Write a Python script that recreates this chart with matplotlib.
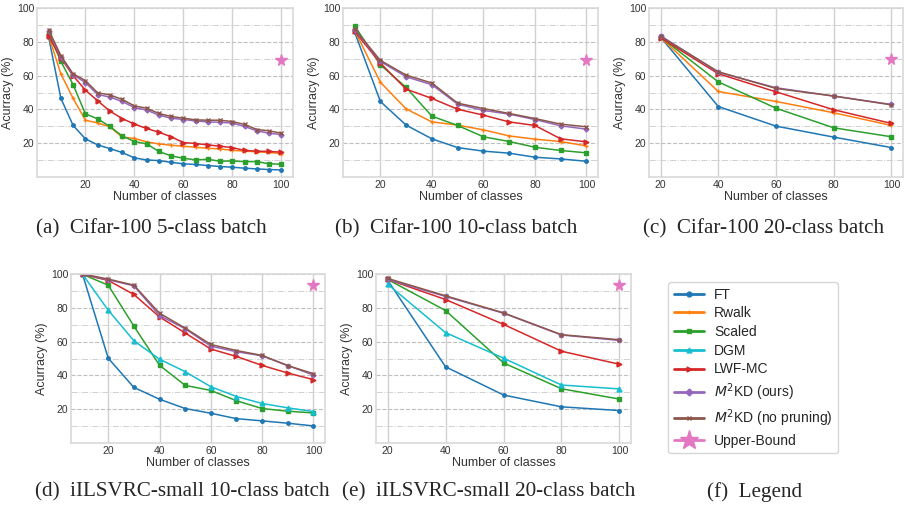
import matplotlib
matplotlib.use("Agg")
import matplotlib.pyplot as plt
from matplotlib.lines import Line2D
from matplotlib.ticker import MultipleLocator

plt.style.use("seaborn-v0_8-whitegrid")

# ---- data ----
x_a = [5, 10, 15, 20, 25, 30, 35, 40, 45, 50, 55, 60, 65, 70, 75, 80, 85, 90, 95, 100]
ft_a = [82.8, 46.5, 30.5, 22.6, 19.0, 16.8, 14.5, 11.3, 10.1, 9.7, 8.7, 7.8, 7.4, 6.8, 6.2, 5.8, 5.2, 4.8, 4.4, 4.2]
rwalk_a = [83.6, 61.0, 46.5, 33.6, 32.0, 29.7, 23.6, 22.8, 20.8, 19.6, 18.8, 18.2, 17.6, 17.0, 16.6, 15.8, 15.3, 14.9, 14.5, 13.9]
scaled_a = [85.2, 68.4, 54.6, 37.4, 34.4, 29.9, 24.3, 21.0, 19.6, 15.1, 12.5, 11.1, 10.1, 10.5, 9.3, 9.5, 9.1, 9.1, 7.8, 7.6]
lwf_a = [83.2, 70.4, 59.9, 51.4, 45.1, 39.0, 34.6, 31.3, 28.7, 26.5, 23.8, 20.4, 19.8, 19.0, 18.2, 17.4, 15.7, 15.3, 15.1, 14.7]
ours_a = [86.6, 71.0, 60.5, 55.9, 48.8, 47.3, 44.7, 41.1, 39.6, 36.6, 34.8, 34.0, 33.2, 32.6, 32.4, 31.9, 29.9, 27.3, 25.9, 25.1]
nopr_a = [87.0, 71.8, 61.0, 57.1, 49.8, 48.6, 45.9, 42.1, 40.7, 37.6, 35.8, 34.8, 33.8, 33.6, 33.6, 32.8, 31.1, 28.1, 27.3, 25.9]
ub_a = 69.4

x_b = [10, 20, 30, 40, 50, 60, 70, 80, 90, 100]
ft_b = [85.8, 44.7, 30.7, 22.6, 17.4, 15.3, 14.1, 11.7, 10.7, 9.3]
rwalk_b = [86.8, 56.1, 40.3, 32.6, 30.7, 27.9, 24.3, 22.4, 21.0, 18.4]
scaled_b = [89.5, 66.4, 53.0, 36.0, 30.5, 23.8, 21.0, 17.6, 15.7, 14.3]
lwf_b = [86.2, 67.4, 52.0, 46.5, 40.1, 36.6, 32.6, 30.5, 22.6, 20.8]
ours_b = [87.2, 68.4, 59.3, 54.6, 43.1, 39.4, 37.2, 34.0, 30.3, 28.3]
nopr_b = [87.6, 69.0, 60.3, 55.6, 43.7, 40.5, 37.6, 34.6, 31.3, 29.7]
ub_b = 69.4

x_c = [20, 40, 60, 80, 100]
ft_c = [82.8, 41.7, 30.1, 23.6, 17.4]
rwalk_c = [82.6, 50.6, 44.7, 38.0, 30.5]
scaled_c = [82.8, 56.3, 40.7, 29.1, 23.8]
lwf_c = [82.4, 61.1, 50.4, 39.8, 31.7]
ours_c = [83.6, 61.9, 52.8, 47.9, 42.9]
nopr_c = [83.2, 62.3, 52.4, 47.9, 42.7]
ub_c = 69.8

x_d = [10, 20, 30, 40, 50, 60, 70, 80, 90, 100]
ft_d = [99.8, 50.2, 32.9, 25.9, 20.4, 17.6, 14.4, 13.1, 11.7, 10.1]
scaled_d = [99.8, 93.4, 69.2, 46.0, 34.1, 31.1, 25.0, 20.4, 18.8, 17.8]
dgm_d = [99.8, 78.6, 60.5, 49.6, 42.2, 33.3, 27.5, 23.4, 20.8, 18.6]
lwf_d = [99.8, 96.2, 87.9, 74.6, 65.1, 55.6, 51.2, 45.9, 41.4, 37.5]
ours_d = [99.8, 96.6, 93.0, 75.4, 67.6, 57.3, 54.0, 51.6, 45.8, 40.2]
nopr_d = [100.0, 97.0, 93.4, 76.8, 68.0, 58.3, 54.7, 51.8, 45.8, 41.0]
ub_d = 93.2

x_e = [20, 40, 60, 80, 100]
ft_e = [96.4, 45.1, 28.4, 21.4, 19.2]
scaled_e = [96.8, 78.4, 47.4, 32.1, 26.0]
dgm_e = [94.0, 65.3, 50.2, 34.3, 32.0]
lwf_e = [96.8, 84.9, 70.2, 54.3, 46.6]
ours_e = [96.8, 86.7, 76.8, 63.9, 60.7]
nopr_e = [97.4, 87.1, 77.0, 64.1, 61.1]
ub_e = 93.2

names = ["FT", "Rwalk", "Scaled", "DGM", "LWF-MC",
         r"$M^2$KD (ours)", r"$M^2$KD (no pruning)", "Upper-Bound"]
colors = ["tab:blue", "tab:orange", "tab:green", "tab:cyan", "tab:red",
          "tab:purple", "tab:brown", "tab:pink"]
markers = ["o", "+", "s", "^", ">", "D", "x", "*"]

captions = ["(a)  Cifar-100 5-class batch", "(b)  Cifar-100 10-class batch",
            "(c)  Cifar-100 20-class batch", "(d)  iILSVRC-small 10-class batch",
            "(e)  iILSVRC-small 20-class batch", "(f)  Legend"]

W, H = 905, 509
fig = plt.figure(figsize=(W / 100, H / 100), dpi=100)


def box(l, t, r, b):
    return [l / W, 1 - b / H, (r - l) / W, (b - t) / H]


def panel(rect, x, series, ub):
    ax = fig.add_axes(rect)
    for idx, y in series:
        ms = 2.5 if markers[idx] in ("D", "s", "o") else 3.5
        ax.plot(x, y, color=colors[idx], marker=markers[idx], ms=ms, lw=1.1, mew=1)
    ax.plot([100], [ub], color=colors[7], marker="*", ms=8.5, ls="none")
    ax.set_ylim(0, 100)
    ax.set_yticks([20, 40, 60, 80, 100])
    ax.yaxis.set_minor_locator(MultipleLocator(10))
    ax.set_xticks([20, 40, 60, 80, 100])
    ax.grid(axis="x", color="0.82", lw=1.0, ls="-")
    ax.grid(axis="y", which="major", color="0.75", lw=0.8, ls="--")
    ax.grid(axis="y", which="minor", color="0.82", lw=0.7, ls="-.")
    ax.tick_params(labelsize=7.5, pad=2, which="both", length=0, labelcolor="0.2")
    for s in ax.spines.values():
        s.set_edgecolor("0.85")
        s.set_linewidth(1.2)
    ax.set_xlabel("Number of classes", fontsize=9, labelpad=1, color="0.2")
    ax.set_ylabel("Acurracy (%)", fontsize=9, labelpad=2, color="0.2")
    return ax


panel(box(37, 8, 293, 177), x_a,
      [(0, ft_a), (1, rwalk_a), (2, scaled_a), (4, lwf_a), (5, ours_a), (6, nopr_a)], ub_a)
panel(box(343, 8, 598, 177), x_b,
      [(0, ft_b), (1, rwalk_b), (2, scaled_b), (4, lwf_b), (5, ours_b), (6, nopr_b)], ub_b)
panel(box(649, 8, 903, 177), x_c,
      [(0, ft_c), (1, rwalk_c), (2, scaled_c), (4, lwf_c), (5, ours_c), (6, nopr_c)], ub_c)
panel(box(71, 274, 325, 443), x_d,
      [(0, ft_d), (2, scaled_d), (3, dgm_d), (4, lwf_d), (5, ours_d), (6, nopr_d)], ub_d)
panel(box(376, 274, 631, 443), x_e,
      [(0, ft_e), (2, scaled_e), (3, dgm_e), (4, lwf_e), (5, ours_e), (6, nopr_e)], ub_e)

# legend panel
handles = []
for i in range(8):
    if markers[i] == "*":
        handles.append(Line2D([], [], color=colors[i], marker="*", ms=14, lw=2))
    else:
        handles.append(Line2D([], [], color=colors[i], marker=markers[i], ms=3.5, lw=2))
leg = fig.legend(handles, names, loc="upper left", bbox_to_anchor=(668 / W, 1 - 282 / H),
                 borderaxespad=0, fontsize=10, frameon=True, handlelength=2.2,
                 labelspacing=0.34, borderpad=0.4, handletextpad=0.7,
                 fancybox=True, edgecolor="0.8")
for t in leg.get_texts():
    t.set_color("0.15")

cap_font = dict(family="Liberation Serif", fontsize=15.2, ha="center", va="center")
fig.text(151 / W, 1 - 229 / H, captions[0], **cap_font)
fig.text(456 / W, 1 - 229 / H, captions[1], **cap_font)
fig.text(764 / W, 1 - 229 / H, captions[2], **cap_font)
fig.text(182 / W, 1 - 492 / H, captions[3], **cap_font)
fig.text(489 / W, 1 - 492 / H, captions[4], **cap_font)
fig.text(755 / W, 1 - 492 / H, captions[5], **cap_font)

fig.savefig("out.png", dpi=100)
